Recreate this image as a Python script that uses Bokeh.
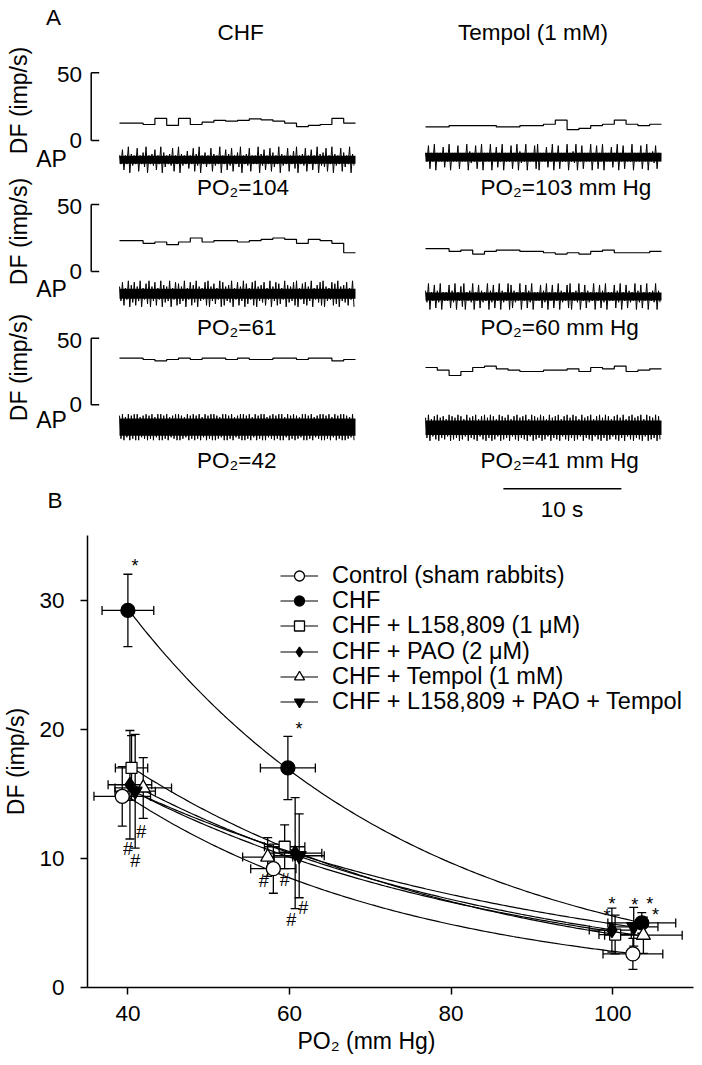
import numpy as np
from bokeh.plotting import figure
from bokeh.layouts import column
from bokeh.models import (Range1d, FixedTicker, ColumnDataSource, Whisker, TeeHead,
                          Legend, LegendItem, Label, Title)
from bokeh.embed import file_html
from bokeh.resources import INLINE
from bokeh.core.properties import value

FONT = "Liberation Sans"

# ======================= DATA =======================
# ---- Panel A: single-unit recordings ----
COLUMN_TITLES = ["CHF", "Tempol (1 mM)"]
PO2_CHF = [104, 61, 42]
PO2_TEMPOL = [103, 60, 41]
DF_SCALE = [0, 50]            # imp/s scale bar
TRACE_SECONDS = 20
TIME_BAR_SECONDS = 10

# discharge frequency (imp/s), 1-s bins
DF_CHF_104 = [12.8, 12.8, 11.8, 16.3, 11.1, 16.3, 11.8, 13.5, 14.8, 14.3,
              14.8, 16.0, 15.3, 14.3, 12.8, 10.3, 11.1, 11.8, 16.3, 12.8]
DF_CHF_61 = [23, 23, 21, 22, 20, 22, 25, 22, 23, 23,
             22, 23, 24, 25, 24, 21, 24, 23, 21, 14]
DF_CHF_42 = [35, 35, 34, 33, 34, 35, 34, 35, 35, 34,
             35, 34, 34, 35, 35, 34, 35, 35, 33, 34]
DF_TEMPOL_103 = [10, 10, 11, 11, 11, 11, 10, 10, 11, 11,
                 12, 15, 8, 9, 11, 12, 15, 12, 11, 12]
DF_TEMPOL_60 = [17, 17, 15, 16, 13, 15, 16, 16, 15, 15,
                14, 13, 14, 13, 15, 16, 14, 14, 14, 15]
DF_TEMPOL_41 = [28, 26, 22, 25, 28, 29, 27, 26, 25, 25,
                26, 26, 27, 25, 28, 27, 29, 25, 26, 27]

# action-potential spikes (relative amplitude, 0-9), 0.25-s steps
AP_CHF_104 = [3,7,3,9,4,3,8,3,5,9,3,4,7,3,9,5,3,4,8,3,9,4,3,6,3,8,4,9,3,5,3,8,4,3,9,3,7,4,8,3,
              5,9,3,4,8,3,3,9,4,7,3,8,5,3,9,4,3,8,3,6,9,3,4,8,3,7,3,9,4,5,8,3,9,4,3,8,5,3,9,4]
AP_CHF_61 = [5,8,4,9,6,8,5,9,4,7,9,5,8,4,9,6,5,9,4,8,7,5,9,4,8,6,9,5,4,8,9,5,7,4,9,8,5,6,9,4,
             8,5,9,7,4,8,9,5,6,8,4,9,5,8,7,4,9,6,5,8,9,4,7,8,5,9,4,6,8,9,5,4,8,7,9,5,6,8,4,9]
AP_CHF_42 = [8,9,7,9,8,9,9,7,8,9,8,9,7,9,9,8,9,7,8,9,9,8,7,9,8,9,8,9,7,9,8,9,9,8,7,9,9,8,9,7,
             8,9,9,8,9,7,9,8,9,9,7,8,9,8,9,9,7,9,8,9,8,7,9,9,8,9,7,8,9,9,8,9,7,9,8,9,9,8,7,9]
AP_TEMPOL_103 = [3,8,3,9,3,3,7,3,9,3,3,8,3,3,9,4,3,8,3,9,3,3,9,3,7,3,9,3,3,8,3,9,4,3,9,3,3,8,9,3,
                 3,7,3,9,3,8,3,3,9,3,4,9,3,8,3,3,9,3,8,3,9,3,3,7,3,9,3,8,3,3,9,3,3,8,3,9,3,4,8,3]
AP_TEMPOL_60 = [4,9,3,8,4,9,3,3,8,4,9,3,7,9,3,4,9,3,8,4,3,9,4,8,3,9,4,3,9,8,4,3,9,3,8,4,9,3,3,8,
                4,9,3,8,3,9,4,3,8,9,3,4,9,3,8,4,3,9,3,8,4,9,3,3,8,4,9,3,8,4,3,9,4,8,3,9,3,4,9,4]
AP_TEMPOL_41 = [7,9,6,8,9,7,8,6,9,8,7,9,8,6,9,7,8,9,6,8,9,7,9,8,6,9,8,7,9,6,8,9,7,8,9,6,9,8,7,9,
                8,6,9,7,8,9,6,8,9,7,9,8,6,9,7,8,9,6,8,9,7,9,8,6,8,9,7,9,6,8,9,7,8,9,6,9,8,7,9,8]
# background noise band (half-height, same units)
AP_NOISE = [[2.8, 3.0], [3.5, 2.8], [6.0, 5.0]]

DF_ROWS = [[DF_CHF_104, DF_TEMPOL_103], [DF_CHF_61, DF_TEMPOL_60], [DF_CHF_42, DF_TEMPOL_41]]
AP_ROWS = [[AP_CHF_104, AP_TEMPOL_103], [AP_CHF_61, AP_TEMPOL_60], [AP_CHF_42, AP_TEMPOL_41]]

# ---- Panel B: DF vs PO2 (mean ± SE) ----
PO2_TICKS = [40, 60, 80, 100]
DF_TICKS = [0, 10, 20, 30]
SERIES_NAMES = ["Control (sham rabbits)", "CHF", "CHF + L158,809 (1 \u03bcM)",
                "CHF + PAO (2 \u03bcM)", "CHF + Tempol (1 mM)", "CHF + L158,809 + PAO + Tempol"]
PO2_CONTROL = [39.3, 58.0, 102.5]
DF_CONTROL = [14.8, 9.2, 2.6]
DF_SE_CONTROL = [2.3, 1.9, 1.2]
PO2_SE_CONTROL = [3.5, 2.8, 3.7]

PO2_CHF_B = [40.0, 59.8, 103.6]
DF_CHF_B = [29.2, 17.0, 5.0]
DF_SE_CHF = [2.8, 2.45, 0.8]
PO2_SE_CHF = [3.2, 3.4, 4.2]

PO2_L158 = [40.45, 59.4, 100.3]
DF_L158 = [17.0, 10.9, 4.1]
DF_SE_L158 = [2.5, 1.7, 1.5]
PO2_SE_L158 = [2.0, 2.5, 2.0]

PO2_PAO = [40.25, 60.7, 99.9]
DF_PAO = [15.7, 10.4, 4.45]
DF_SE_PAO = [4.2, 4.3, 1.7]
PO2_SE_PAO = [2.7, 3.3, 2.8]

PO2_TEMPOL_B = [41.9, 57.3, 103.8]
DF_TEMPOL_B = [15.45, 10.1, 4.05]
DF_SE_TEMPOL = [2.35, 1.5, 1.4]
PO2_SE_TEMPOL = [3.5, 3.1, 4.8]

PO2_COMBO = [40.9, 61.2, 102.6]
DF_COMBO = [15.2, 10.2, 4.7]
DF_SE_COMBO = [4.4, 3.25, 1.5]
PO2_SE_COMBO = [2.5, 3.1, 3.0]

# significance marks: (symbol, series index, point index, bar end)
SIG_MARKS = [("*", 1, 0, "top"), ("*", 1, 1, "top"), ("*", 3, 2, "top"), ("*", 2, 2, "top"),
             ("*", 5, 2, "top"), ("*", 1, 2, "top"), ("*", 4, 2, "top"),
             ("#", 4, 0, "bottom"), ("#", 3, 0, "bottom"), ("#", 5, 0, "bottom"),
             ("#", 4, 1, "bottom"), ("#", 2, 1, "bottom"), ("#", 3, 1, "bottom"), ("#", 5, 1, "bottom")]

# ======================= LAYOUT =======================
W = 702
HA, HB = 527, 538
FRAME_L, FRAME_R = 87, 693          # panel B frame edges (page px)
B_TOP, B_BOT = 535, 987             # panel B frame (page px)
SIG_OFFSETS = [(7, -8), (11, -7), (0, -4), (-8, 1), (1, -2), (8, -9), (12, -2),
               (-2, 14), (-2, 10), (0, 13), (-4, 5), (0, 11), (-4, 11), (4, 10)]
LEG_X, LEG_ROW0, LEG_DY, LEG_H = 280, 575, 25.35, 27
XLABEL_LEFT = 297


def pixel_range(v0, p0, v1, p1, size):
    s = (p1 - p0) / (v1 - v0)
    start = v0 - p0 / s
    return Range1d(start=start, end=start + size / s)


def no_align(p):
    if "frame_align" in type(p).properties():
        p.frame_align = False


pa = figure(width=W, height=HA, x_range=Range1d(0, W), y_range=Range1d(HA, 0),
            title=None, output_backend="svg", toolbar_location=None,
            x_axis_location=None, y_axis_location=None, min_border=0)
pa.outline_line_color = None
pa.grid.visible = False
no_align(pa)

ROW_DF0 = [140.0, 271.0, 404.3]
ROW_DF50 = [72.3, 204.0, 337.7]
ROW_AP = [[159.3, 156.7], [293.3, 296.0], [426.7, 427.3]]
DF_LABEL_Y = [100, 231, 367]
AP_LABEL_Y = [158, 288, 419]
COL_T0 = [119, 425]
COL_T20 = [355, 661]
AP_PX = 13.0

pa.extra_x_ranges = {f"t{c}": pixel_range(0, COL_T0[c], TRACE_SECONDS, COL_T20[c], W)
                     for c in range(2)}
yr = {}
for r in range(3):
    yr[f"df{r}"] = pixel_range(0, HA - ROW_DF0[r], 50, HA - ROW_DF50[r], HA)
    for c in range(2):
        base = HA - ROW_AP[r][c]
        yr[f"ap{r}{c}"] = pixel_range(0, base, 9, base + AP_PX, HA)
pa.extra_y_ranges = yr

TXT = dict(text_font=FONT, text_color="black")
bar_x = 90.7
for r in range(3):
    for c in range(2):
        vals = DF_ROWS[r][c]
        edges = np.arange(len(vals) + 1) * (TRACE_SECONDS / len(vals))
        pa.step(x=edges, y=list(vals) + [vals[-1]], mode="after", x_range_name=f"t{c}",
                y_range_name=f"df{r}", line_color="black", line_width=1.2)
        nz = AP_NOISE[r][c]
        pa.quad(left=[0], right=[TRACE_SECONDS], bottom=[-nz], top=[nz],
                x_range_name=f"t{c}", y_range_name=f"ap{r}{c}", fill_color="black",
                line_color=None)
        a = np.asarray(AP_ROWS[r][c], dtype=float)
        n = len(a)
        dt = TRACE_SECONDS / n
        t = np.repeat(np.arange(n) * dt, 2) + np.tile([0.0, dt / 2], n)
        y = np.empty(2 * n)
        y[0::2] = a
        y[1::2] = -a
        pa.line(t, y, x_range_name=f"t{c}", y_range_name=f"ap{r}{c}", line_color="black",
                line_width=1.0)
    # DF scale bar
    pa.segment(x0=[bar_x], y0=[DF_SCALE[0]], x1=[bar_x], y1=[DF_SCALE[1]],
               y_range_name=f"df{r}", line_color="black", line_width=1.5)
    pa.segment(x0=[bar_x] * 2, y0=DF_SCALE, x1=[bar_x + 8] * 2, y1=DF_SCALE,
               y_range_name=f"df{r}", line_color="black", line_width=1.5)
    for v, yo in zip(DF_SCALE, (0, -2)):
        pa.add_layout(Label(x=81.5, y=v, y_range_name=f"df{r}", y_offset=yo, text=str(v),
                            text_align="right", text_baseline="middle",
                            text_font_size="22.5px", **TXT))
    pa.add_layout(Label(x=18, y=DF_LABEL_Y[r], text="DF (imp/s)", angle=np.pi / 2,
                        text_align="center", text_baseline="middle", text_font_size="23px", **TXT))
    pa.add_layout(Label(x=51, y=AP_LABEL_Y[r], text="AP", text_align="center",
                        text_baseline="middle", text_font_size="23px", **TXT))

PO2_Y = [186.7, 326.7, 459.5]
for r in range(3):
    pa.add_layout(Label(x=196.5, y=PO2_Y[r], text=f"PO\u2082={PO2_CHF[r]}",
                        text_align="left", text_baseline="middle", text_font_size="22.5px", **TXT))
    pa.add_layout(Label(x=480, y=PO2_Y[r], text=f"PO\u2082={PO2_TEMPOL[r]} mm Hg",
                        text_align="left", text_baseline="middle", text_font_size="22.5px", **TXT))

pa.add_layout(Label(x=240, y=32, text=COLUMN_TITLES[0], text_align="center",
                    text_baseline="middle", text_font_size="22.5px", **TXT))
pa.add_layout(Label(x=532.5, y=32, text=COLUMN_TITLES[1], text_align="center",
                    text_baseline="middle", text_font_size="22.5px", **TXT))
pa.add_layout(Label(x=53, y=17, text="A", text_align="center",
                    text_baseline="middle", text_font_size="22.5px", **TXT))
pa.add_layout(Label(x=54.5, y=500, text="B", text_align="center",
                    text_baseline="middle", text_font_size="22.5px", **TXT))
# time scale bar (right column)
tb0 = 6.6
pa.segment(x0=[tb0], y0=[488.3], x1=[tb0 + TIME_BAR_SECONDS], y1=[488.3],
           x_range_name="t1", line_color="black", line_width=1.5)
pa.add_layout(Label(x=561.5, y=509, text=f"{TIME_BAR_SECONDS} s", text_align="center",
                    text_baseline="middle", text_font_size="22.5px", **TXT))

# ======================= PANEL B =======================
pb = figure(width=W, height=HB, x_range=Range1d(35, 110), y_range=Range1d(0, 35), title=None,
            output_backend="svg", toolbar_location=None,
            min_border_left=FRAME_L, min_border_right=W - FRAME_R,
            min_border_top=B_TOP - HA, min_border_bottom=HA + HB - B_BOT)
no_align(pb)
pb.grid.visible = False
pb.outline_line_color = None
pb.xaxis.ticker = FixedTicker(ticks=PO2_TICKS)
pb.yaxis.ticker = FixedTicker(ticks=DF_TICKS)
for ax in (pb.xaxis[0], pb.yaxis[0]):
    ax.axis_line_width = 1.5
    ax.axis_line_color = "black"
    ax.major_tick_line_width = 1.5
    ax.major_tick_line_color = "black"
    ax.major_tick_out = 7
    ax.major_tick_in = 0
    ax.minor_tick_out = 0
    ax.minor_tick_in = 0
    ax.major_label_text_font = FONT
    ax.major_label_text_font_size = "22.5px"
    ax.major_label_text_color = "black"
    ax.axis_label_text_font = FONT
    ax.axis_label_text_font_size = "23px"
    ax.axis_label_text_font_style = "normal"
    ax.axis_label_text_color = "black"
pb.yaxis.axis_label = "DF (imp/s)"
pb.xaxis.major_label_standoff = 11
pb.yaxis.major_label_standoff = 16
pb.yaxis.axis_label_standoff = 7
# x-axis title, placed off-centre as in the original figure
pb.add_layout(Title(text="PO\u2082 (mm Hg)", align="left", offset=XLABEL_LEFT - FRAME_L,
                    standoff=5, text_font=FONT, text_font_size="23px",
                    text_font_style="normal", text_color="black"), "below")

SERIES = [
    (PO2_CONTROL, DF_CONTROL, PO2_SE_CONTROL, DF_SE_CONTROL, "circle", "white", 14),
    (PO2_CHF_B, DF_CHF_B, PO2_SE_CHF, DF_SE_CHF, "circle", "black", 14),
    (PO2_L158, DF_L158, PO2_SE_L158, DF_SE_L158, "square", "white", 11),
    (PO2_PAO, DF_PAO, PO2_SE_PAO, DF_SE_PAO, "diamond", "black", 15),
    (PO2_TEMPOL_B, DF_TEMPOL_B, PO2_SE_TEMPOL, DF_SE_TEMPOL, "triangle", "white", 14),
    (PO2_COMBO, DF_COMBO, PO2_SE_COMBO, DF_SE_COMBO, "inverted_triangle", "black", 14),
]

items = []
for name, (xs, ys, xe, ye, mk, fill, sz) in zip(SERIES_NAMES, SERIES):
    xs_a, ys_a = np.asarray(xs), np.asarray(ys)
    xe_a, ye_a = np.asarray(xe), np.asarray(ye)
    slope, icpt = np.polyfit(xs_a, np.log(ys_a), 1)
    xx = np.linspace(xs_a.min(), xs_a.max(), 150)
    curve = pb.line(xx, np.exp(icpt + slope * xx), line_color="black", line_width=1.2)
    src = ColumnDataSource(dict(x=xs_a, y=ys_a, ylo=ys_a - ye_a, yhi=ys_a + ye_a,
                                xlo=xs_a - xe_a, xhi=xs_a + xe_a))
    for dim, base, lo, hi in (("height", "x", "ylo", "yhi"), ("width", "y", "xlo", "xhi")):
        pb.add_layout(Whisker(source=src, base=base, lower=lo, upper=hi, dimension=dim,
                              line_color="black", line_width=1.3,
                              lower_head=TeeHead(size=9, line_width=1.3, line_color="black"),
                              upper_head=TeeHead(size=9, line_width=1.3, line_color="black")))
    pts = pb.scatter("x", "y", source=src, marker=mk, size=sz, fill_color=fill,
                     line_color="black", line_width=1.3)
    items.append(LegendItem(label=name, renderers=[curve, pts]))

mx, my, mt, mdx, mdy = [], [], [], [], []
for (sym, si, pi, end), (dx, dy) in zip(SIG_MARKS, SIG_OFFSETS):
    xs, ys, xe, ye = SERIES[si][:4]
    mx.append(xs[pi])
    my.append(ys[pi] + ye[pi] if end == "top" else ys[pi] - ye[pi])
    mt.append(sym)
    mdx.append(dx)
    mdy.append(dy)
pb.text(x=mx, y=my, text=mt, x_offset=mdx, y_offset=mdy, text_align="center",
        text_baseline="middle", text_font=value(FONT), text_font_size="18px", text_color="black")

# one legend box per entry so the row pitch matches the original
for i, item in enumerate(items):
    row_c = LEG_ROW0 + i * LEG_DY
    pb.add_layout(Legend(items=[item], location=(LEG_X - FRAME_L, B_BOT - row_c - LEG_H / 2),
                         padding=0, margin=0, spacing=0,
                         glyph_width=38, glyph_height=25, label_height=25, label_standoff=14,
                         label_text_font=FONT, label_text_font_size="23.5px",
                         label_text_color="black",
                         border_line_color=None, background_fill_alpha=0))

layout = column(pa, pb)
open("out.html", "w").write(file_html(layout, INLINE))
